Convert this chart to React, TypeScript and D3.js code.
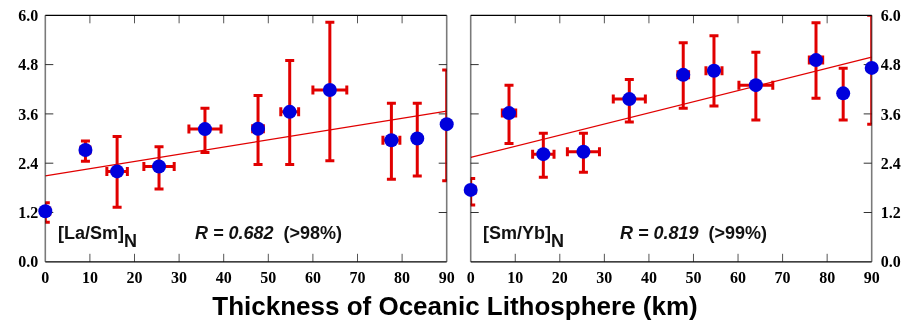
import React from "react";
import * as d3 from "d3";

// ---- Data ----
const yTicks = [0, 1.2, 2.4, 3.6, 4.8, 6.0];
const xTicks = [0, 10, 20, 30, 40, 50, 60, 70, 80, 90];

const laSmX = [0, 9, 16.1, 25.5, 35.8, 47.7, 54.8, 63.8, 77.6, 83.4, 90];
const laSmY = [1.23, 2.72, 2.2, 2.32, 3.23, 3.24, 3.65, 4.18, 2.96, 3.0, 3.35];
const laSmYHi = [1.44, 2.94, 3.05, 2.8, 3.74, 4.05, 4.9, 5.83, 3.86, 3.86, 4.67];
const laSmYLo = [0.96, 2.45, 1.33, 1.77, 2.66, 2.37, 2.37, 2.46, 2.01, 2.09, 1.97];
const laSmXErr = [1, 1, 2.3, 3.4, 3.6, 1.2, 2, 3.8, 1.9, 0, 0];
const laSmFit = [2.09, 3.67]; // value at x=0 and x=90

const smYbX = [0, 8.6, 16.3, 25.3, 35.6, 47.7, 54.6, 64.0, 77.5, 83.6, 90];
const smYbY = [1.75, 3.62, 2.62, 2.68, 3.96, 4.55, 4.65, 4.3, 4.91, 4.1, 4.72];
const smYbYHi = [2.03, 4.3, 3.13, 3.13, 4.44, 5.33, 5.5, 5.1, 5.82, 4.71, 6.0];
const smYbYLo = [1.38, 2.88, 2.06, 2.18, 3.4, 3.74, 3.79, 3.45, 3.98, 3.45, 3.35];
const smYbXErr = [1, 1.5, 2.4, 3.6, 3.6, 1.2, 1.8, 3.8, 1.5, 0, 0];
const smYbFit = [2.54, 4.98];

const RED = "#e10000";
const BLUE = "#0000dc";
const SERIF = "'Liberation Serif', 'Times New Roman', serif";
const SANS = "'Liberation Sans', Arial, sans-serif";

const TOP = 15.3;
const BOTTOM = 261.8;

type PanelProps = {
  id: string;
  x0: number;
  x1: number;
  xs: number[];
  ys: number[];
  hi: number[];
  lo: number[];
  xerr: number[];
  fit: number[];
  labelSide: "left" | "right";
  name: string;
  rText: string;
  pText: string;
  nameX: number;
  rX: number;
};

function Panel(p: PanelProps) {
  const x = d3.scaleLinear().domain([0, 90]).range([p.x0, p.x1]);
  const y = d3.scaleLinear().domain([0, 6]).range([BOTTOM, TOP]);
  const cap = 4.5;
  const tickLen = 8;
  const line = d3
    .line<number>()
    .x((_, i) => x(i === 0 ? 0 : 90))
    .y((d) => y(d));
  return (
    <g>
      <defs>
        <clipPath id={`clip-${p.id}`}>
          <rect x={p.x0} y={TOP} width={p.x1 - p.x0} height={BOTTOM - TOP} />
        </clipPath>
      </defs>
      {/* ticks */}
      {xTicks.slice(1, -1).map((t) => (
        <g key={`xt${t}`} stroke="#555" strokeWidth={1}>
          <line x1={x(t)} x2={x(t)} y1={BOTTOM} y2={BOTTOM - tickLen} />
          <line x1={x(t)} x2={x(t)} y1={TOP} y2={TOP + tickLen} />
        </g>
      ))}
      {yTicks.slice(1, -1).map((t) => (
        <g key={`yt${t}`} stroke="#333" strokeWidth={1}>
          <line x1={p.x0} x2={p.x0 + tickLen} y1={y(t)} y2={y(t)} />
          <line x1={p.x1} x2={p.x1 - tickLen} y1={y(t)} y2={y(t)} />
        </g>
      ))}
      {/* regression line */}
      <path
        d={line(p.fit) || ""}
        stroke={RED}
        strokeWidth={1.3}
        fill="none"
        clipPath={`url(#clip-${p.id})`}
      />
      {/* error bars */}
      <g clipPath={`url(#clip-${p.id})`} stroke={RED} strokeWidth={3} fill="none">
        {p.xs.map((xv, i) => (
          <g key={`e${i}`}>
            <line x1={x(xv)} x2={x(xv)} y1={y(p.hi[i])} y2={y(p.lo[i])} />
            <line x1={x(xv) - cap} x2={x(xv) + cap} y1={y(p.hi[i])} y2={y(p.hi[i])} />
            <line x1={x(xv) - cap} x2={x(xv) + cap} y1={y(p.lo[i])} y2={y(p.lo[i])} />
            {p.xerr[i] > 0 && (
              <g>
                <line
                  x1={x(xv - p.xerr[i])}
                  x2={x(xv + p.xerr[i])}
                  y1={y(p.ys[i])}
                  y2={y(p.ys[i])}
                />
                <line
                  x1={x(xv - p.xerr[i])}
                  x2={x(xv - p.xerr[i])}
                  y1={y(p.ys[i]) - cap}
                  y2={y(p.ys[i]) + cap}
                />
                <line
                  x1={x(xv + p.xerr[i])}
                  x2={x(xv + p.xerr[i])}
                  y1={y(p.ys[i]) - cap}
                  y2={y(p.ys[i]) + cap}
                />
              </g>
            )}
          </g>
        ))}
      </g>
      {/* frame */}
      <line x1={p.x0} x2={p.x1} y1={TOP} y2={TOP} stroke="#000" strokeWidth={1.2} />
      <line x1={p.x0} x2={p.x1} y1={BOTTOM} y2={BOTTOM} stroke="#000" strokeWidth={1.2} />
      <line
        x1={p.x0}
        x2={p.x0}
        y1={TOP}
        y2={BOTTOM}
        stroke="#7a7a7a"
        strokeWidth={1.6}
        style={{ mixBlendMode: "multiply" }}
      />
      <line
        x1={p.x1}
        x2={p.x1}
        y1={TOP}
        y2={BOTTOM}
        stroke="#7a7a7a"
        strokeWidth={1.6}
        style={{ mixBlendMode: "multiply" }}
      />
      {/* points */}
      {p.xs.map((xv, i) => (
        <circle key={`c${i}`} cx={x(xv)} cy={y(p.ys[i])} r={7} fill={BLUE} />
      ))}
      {/* tick labels */}
      {yTicks.map((t) => (
        <text
          key={`yl${t}`}
          x={p.labelSide === "left" ? p.x0 - 7 : p.x1 + 9}
          y={y(t)}
          dy="0.35em"
          textAnchor={p.labelSide === "left" ? "end" : "start"}
          fontFamily={SERIF}
          fontWeight="bold"
          fontSize={16}
        >
          {t.toFixed(1)}
        </text>
      ))}
      {xTicks.map((t) => (
        <text
          key={`xl${t}`}
          x={x(t)}
          y={283}
          textAnchor="middle"
          fontFamily={SERIF}
          fontWeight="bold"
          fontSize={16}
        >
          {t}
        </text>
      ))}
      {/* annotations */}
      <text x={p.nameX} y={239} fontFamily={SANS} fontWeight="bold" fontSize={18} fill="#111">
        {p.name}
        <tspan dy={8} fontSize={18}>
          N
        </tspan>
      </text>
      <text x={p.rX} y={239} fontFamily={SANS} fontWeight="bold" fontSize={18} fill="#111">
        <tspan fontStyle="italic">{p.rText}</tspan>
        <tspan xmlSpace="preserve">{"  " + p.pText}</tspan>
      </text>
    </g>
  );
}

export default function App() {
  return (
    <svg
      width={915}
      height={325}
      style={{ position: "absolute", left: 0, top: 0, background: "#fff" }}
    >
      <rect width={915} height={325} fill="#fff" />
      <Panel
        id="lasm"
        x0={45.3}
        x1={446.7}
        xs={laSmX}
        ys={laSmY}
        hi={laSmYHi}
        lo={laSmYLo}
        xerr={laSmXErr}
        fit={laSmFit}
        labelSide="left"
        name="[La/Sm]"
        rText="R = 0.682"
        pText="(>98%)"
        nameX={58}
        rX={195}
      />
      <Panel
        id="smyb"
        x0={470.7}
        x1={871.7}
        xs={smYbX}
        ys={smYbY}
        hi={smYbYHi}
        lo={smYbYLo}
        xerr={smYbXErr}
        fit={smYbFit}
        labelSide="right"
        name="[Sm/Yb]"
        rText="R = 0.819"
        pText="(>99%)"
        nameX={483}
        rX={620}
      />
      <text
        x={455}
        y={315}
        textAnchor="middle"
        fontFamily={SANS}
        fontWeight="bold"
        fontSize={26}
      >
        Thickness of Oceanic Lithosphere (km)
      </text>
    </svg>
  );
}
